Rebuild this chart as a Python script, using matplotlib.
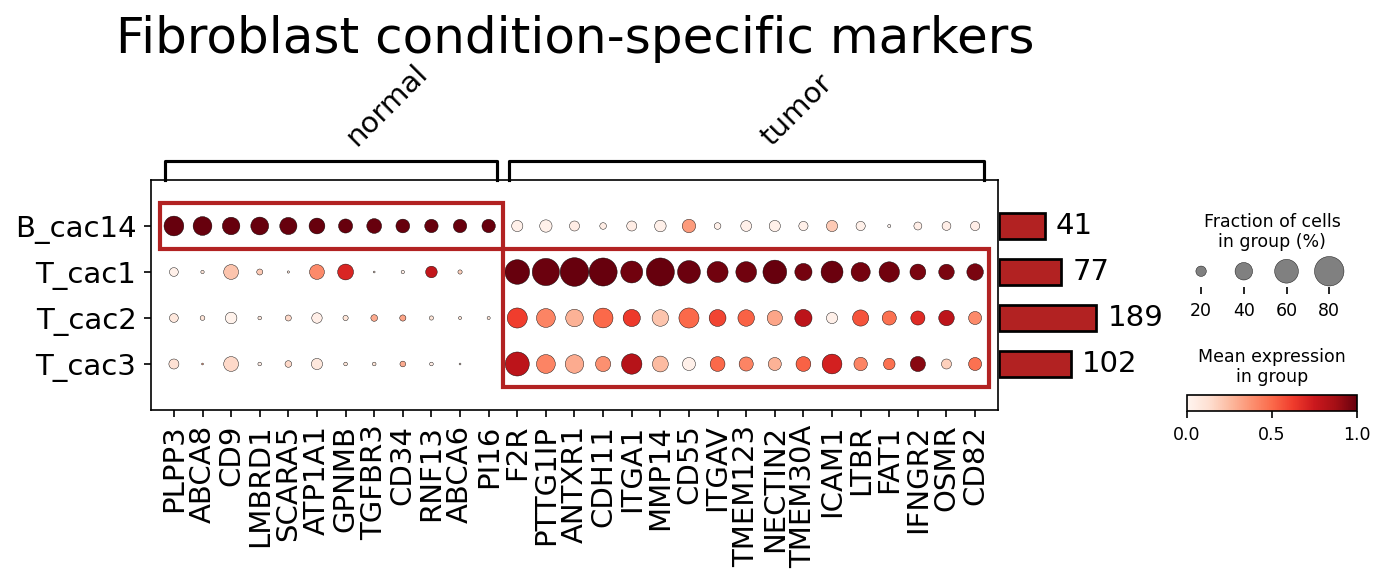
import matplotlib
matplotlib.use("Agg")
import matplotlib.pyplot as plt
import numpy as np
from matplotlib.patches import Rectangle
from matplotlib.colors import Normalize
from matplotlib.cm import ScalarMappable

TITLE = "Fibroblast condition-specific markers"

groups = ["B_cac14", "T_cac1", "T_cac2", "T_cac3"]
cell_counts = [41, 77, 189, 102]

genes_normal = ["PLPP3", "ABCA8", "CD9", "LMBRD1", "SCARA5", "ATP1A1",
                "GPNMB", "TGFBR3", "CD34", "RNF13", "ABCA6", "PI16"]
genes_tumor = ["F2R", "PTTG1IP", "ANTXR1", "CDH11", "ITGA1", "MMP14", "CD55",
               "ITGAV", "TMEM123", "NECTIN2", "TMEM30A", "ICAM1", "LTBR",
               "FAT1", "IFNGR2", "OSMR", "CD82"]

# fraction of cells expressing (0-1), one list per group: normal genes then tumor genes
frac_b_cac14 = [0.47, 0.44, 0.40, 0.41, 0.39, 0.35, 0.30, 0.32, 0.29, 0.28, 0.28, 0.28,
                0.22, 0.25, 0.19, 0.11, 0.19, 0.23, 0.28, 0.11, 0.21, 0.22, 0.17, 0.22,
                0.17, 0.04, 0.14, 0.16, 0.17]
frac_t_cac1 = [0.16, 0.044, 0.32, 0.096, 0.026, 0.32, 0.35, 0.02, 0.044, 0.23, 0.06, 0.0,
               0.63, 0.72, 0.77, 0.75, 0.54, 0.75, 0.57, 0.51, 0.50, 0.60, 0.39, 0.54,
               0.45, 0.49, 0.35, 0.34, 0.37]
frac_t_cac2 = [0.16, 0.07, 0.23, 0.05, 0.096, 0.20, 0.08, 0.11, 0.10, 0.06, 0.04, 0.04,
               0.48, 0.44, 0.40, 0.47, 0.39, 0.37, 0.48, 0.38, 0.37, 0.33, 0.39, 0.22,
               0.36, 0.30, 0.30, 0.34, 0.27]
frac_t_cac3 = [0.19, 0.02, 0.32, 0.05, 0.11, 0.22, 0.05, 0.05, 0.09, 0.05, 0.02, 0.0,
               0.61, 0.44, 0.43, 0.33, 0.49, 0.35, 0.27, 0.32, 0.30, 0.27, 0.32, 0.47,
               0.28, 0.23, 0.33, 0.19, 0.27]

# scaled mean expression (0-1)
expr_b_cac14 = [1.0, 1.0, 1.0, 1.0, 1.0, 1.0, 1.0, 1.0, 1.0, 1.0, 1.0, 1.0,
                0.03, 0.03, 0.05, 0.05, 0.05, 0.03, 0.35, 0.03, 0.03, 0.03, 0.03, 0.20,
                0.03, 0.0, 0.04, 0.04, 0.04]
expr_t_cac1 = [0.03, 0.10, 0.22, 0.20, 0.10, 0.40, 0.70, 0.10, 0.05, 0.78, 0.18, 0.0,
               1.0, 0.99, 1.0, 1.0, 0.98, 1.0, 0.99, 0.98, 0.98, 1.0, 0.97, 0.99,
               0.97, 0.98, 0.96, 0.96, 0.96]
expr_t_cac2 = [0.08, 0.10, 0.02, 0.08, 0.15, 0.04, 0.10, 0.30, 0.32, 0.10, 0.10, 0.10,
               0.62, 0.42, 0.28, 0.50, 0.63, 0.22, 0.50, 0.60, 0.52, 0.32, 0.80, 0.03,
               0.56, 0.48, 0.68, 0.80, 0.40]
expr_t_cac3 = [0.12, 0.30, 0.15, 0.05, 0.15, 0.08, 0.10, 0.10, 0.30, 0.05, 0.10, 0.0,
               0.80, 0.42, 0.30, 0.38, 0.82, 0.25, 0.03, 0.50, 0.42, 0.28, 0.52, 0.72,
               0.42, 0.48, 0.93, 0.18, 0.48]

size_legend_vals = [0.2, 0.4, 0.6, 0.8]
DOT_MAX = 0.8
LARGEST_DOT = 200

W, H = 1385, 584
DPI = 150


def rect(x0, y0, x1, y1):
    """Pixel box (top-left origin) -> figure fraction rect."""
    return [x0 / W, 1 - y1 / H, (x1 - x0) / W, (y1 - y0) / H]


def dot_size(frac):
    frac = np.clip(np.asarray(frac, dtype=float), 0, DOT_MAX)
    return (frac / DOT_MAX) ** 1.5 * LARGEST_DOT


genes = genes_normal + genes_tumor
frac = np.array([frac_b_cac14, frac_t_cac1, frac_t_cac2, frac_t_cac3])
expr = np.array([expr_b_cac14, expr_t_cac1, expr_t_cac2, expr_t_cac3])
n_rows, n_cols = frac.shape

fig = plt.figure(figsize=(W / DPI, H / DPI), dpi=DPI)

# main dot plot
ax = fig.add_axes(rect(151, 180, 998, 410))
xx, yy = np.meshgrid(np.arange(n_cols), np.arange(n_rows))
ax.scatter(xx.ravel(), yy.ravel(), s=dot_size(frac.ravel()), c=expr.ravel(),
           cmap="Reds", vmin=0, vmax=1, edgecolor="black", linewidth=0.2, zorder=3)
ax.set_xlim(-0.8, n_cols - 0.2)
ax.set_ylim(n_rows, -1)
ax.set_xticks(np.arange(n_cols))
ax.set_xticklabels(genes, rotation=90, fontsize=14)
ax.set_yticks(np.arange(n_rows))
ax.set_yticklabels(groups, fontsize=14)

# highlight boxes
n_norm = len(genes_normal)
n_tum = len(genes_tumor)
ax.add_patch(Rectangle((-0.5, -0.5), n_norm, 1, fill=False, ec="firebrick",
                       lw=2, zorder=5, clip_on=False))
ax.add_patch(Rectangle((n_norm - 0.5, 0.5), n_tum, n_rows - 1, fill=False,
                       ec="firebrick", lw=2, zorder=5, clip_on=False))

# gene group brackets
gax = fig.add_axes(rect(151, 161, 998, 180))
gax.set_xlim(ax.get_xlim())
gax.set_ylim(0, 1)
gax.axis("off")
brackets = [("normal", 0, n_norm - 1), ("tumor", n_norm, n_cols - 1)]
for label, start, end in brackets:
    left = start - 0.3
    right = end + 0.3
    gax.plot([left, left, right, right], [0, 1, 1, 0], color="black", lw=1.5,
             clip_on=False)
    gax.annotate(label, xy=((left + right) / 2, 1), xycoords=("data", "axes fraction"),
                 xytext=(10, 10), textcoords="offset pixels", rotation=45,
                 ha="left", va="bottom", fontsize=14)

# cell count bars
bax = fig.add_axes(rect(999.5, 180, 1176, 410))
bax.barh(np.arange(n_rows), cell_counts, height=0.55, color="firebrick",
         edgecolor="black", lw=1.3)
bax.set_xscale("function", functions=(np.sqrt, np.square))
bax.set_xlim(0, 627)
bax.set_ylim(n_rows, -1)
bax.axis("off")
for i, c in enumerate(cell_counts):
    bax.annotate(str(c), xy=(c, i), xytext=(11, 0), textcoords="offset pixels",
                 ha="left", va="center", fontsize=14)

# size legend
sax = fig.add_axes(rect(1187, 252, 1357, 287))
sax.scatter(np.arange(len(size_legend_vals)), np.zeros(len(size_legend_vals)),
            s=dot_size(size_legend_vals), color="gray", edgecolor="black",
            linewidth=0.2, zorder=100, clip_on=False)
sax.set_xlim(-0.33, 3.65)
sax.set_ylim(-0.9, 1.1)
sax.set_xticks(np.arange(len(size_legend_vals)))
sax.set_xticklabels([f"{int(v * 100)}" for v in size_legend_vals], fontsize="small")
sax.tick_params(axis="y", left=False, labelleft=False)
for sp in sax.spines.values():
    sp.set_visible(False)
fig.text(1272 / W, 1 - 232 / H, "Fraction of cells\nin group (%)", ha="center",
         va="center", fontsize="small")

# colorbar
cax = fig.add_axes(rect(1187, 395, 1357, 411))
cb = fig.colorbar(ScalarMappable(norm=Normalize(0, 1), cmap="Reds"), cax=cax,
                  orientation="horizontal")
cb.set_ticks([0.0, 0.5, 1.0])
cb.ax.tick_params(labelsize="small")
fig.text(1272 / W, 1 - 367 / H, "Mean expression\nin group", ha="center",
         va="center", fontsize="small")

fig.text(575 / W, 1 - 52.7 / H, TITLE, ha="center", va="baseline", fontsize=24)

fig.savefig("out.png", dpi=DPI)
